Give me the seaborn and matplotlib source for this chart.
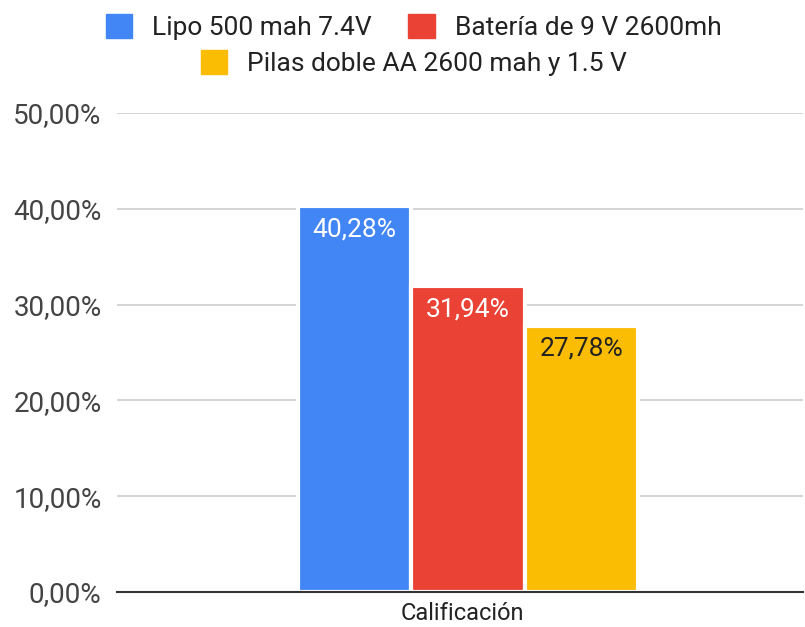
import matplotlib
matplotlib.use("Agg")
import matplotlib.pyplot as plt
from matplotlib.ticker import FuncFormatter, MultipleLocator
from matplotlib.patches import Patch
from matplotlib.transforms import ScaledTranslation
import seaborn as sns
import pandas as pd

# Data
category = ["Calificación"]
series = ["Lipo 500 mah 7.4V", "Batería de 9 V 2600mh", "Pilas doble AA 2600 mah y 1.5 V"]
values = [40.28, 31.94, 27.78]
colors = ["#4285F4", "#EA4335", "#FBBC04"]
label_colors = ["white", "white", "#222222"]

df = pd.DataFrame({"cat": category * len(series), "serie": series, "val": values})

sns.set_theme(style="white")
plt.rcParams["font.family"] = ["Roboto", "DejaVu Sans"]

fig = plt.figure(figsize=(8.05, 6.27), dpi=100)
ax = fig.add_axes([0.1453, 0.0558, 0.852, 0.764])

sns.barplot(data=df, x="cat", y="val", hue="serie", palette=colors,
            hue_order=series, width=0.81, ax=ax, legend=False,
            edgecolor="white", linewidth=3.0, saturation=1)

ax.set_ylim(0, 50)
ax.set_xlim(-0.836, 0.797)
ax.yaxis.set_major_locator(MultipleLocator(10))
ax.yaxis.set_major_formatter(FuncFormatter(lambda v, p: f"{v:.2f}".replace(".", ",") + "%"))
ax.grid(axis="y", color="#cccccc", linewidth=1.2)
ax.set_axisbelow(True)
for s in ["top", "right", "left"]:
    ax.spines[s].set_visible(False)
ax.spines["bottom"].set_color("#333333")
ax.spines["bottom"].set_linewidth(1.5)
ax.spines["bottom"].set_zorder(5)
ax.tick_params(axis="y", length=0, pad=11, labelsize=20, labelcolor="#444444")
ax.tick_params(axis="x", length=0, pad=7, labelsize=17, labelcolor="#222222")
ax.set_xlabel("")
ax.set_ylabel("")

# Category label sits centred under the plot area rather than the bar group
for lbl in ax.get_xticklabels():
    lbl.set_transform(lbl.get_transform() + ScaledTranslation(-0.06, 0, fig.dpi_scale_trans))

# Value labels inside the top of each bar
for bar, v, c in zip(ax.patches, values, label_colors):
    ax.annotate(f"{v:.2f}".replace(".", ",") + "%",
                xy=(bar.get_x() + bar.get_width() / 2, v),
                xytext=(0, -8), textcoords="offset points",
                ha="center", va="top", fontsize=19, color=c)

# Legend in two centered rows
handles = [Patch(facecolor=c, edgecolor=c, linewidth=1, joinstyle="round") for c in colors]
leg_kw = dict(frameon=False, fontsize=19, handlelength=1.0, handleheight=1.0,
              handletextpad=0.75, columnspacing=1.4, labelcolor="#222222",
              borderpad=0, borderaxespad=0)
fig.legend(handles[:2], series[:2], ncol=2, loc="center",
           bbox_to_anchor=(413.5 / 805, 1 - 27 / 627), **leg_kw)
fig.legend(handles[2:], series[2:], ncol=1, loc="center",
           bbox_to_anchor=(413.5 / 805, 1 - 63 / 627), **leg_kw)

fig.savefig("out.png", dpi=100)
